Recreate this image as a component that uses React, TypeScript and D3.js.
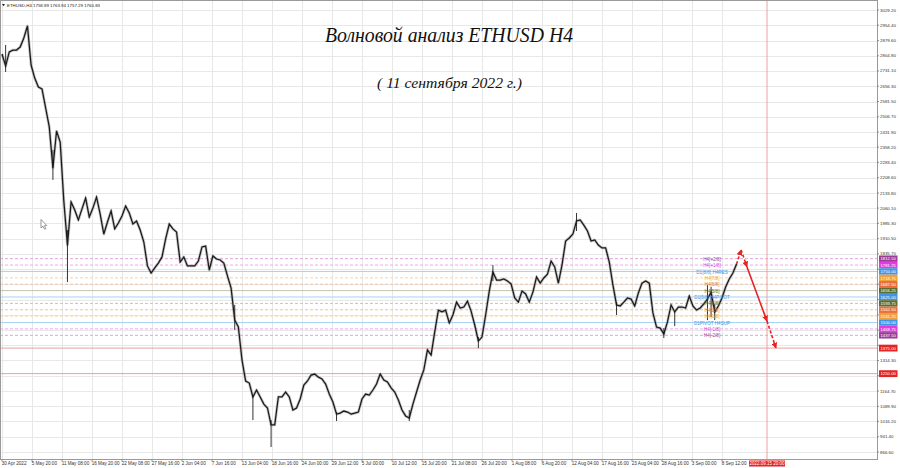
import React from 'react';
import * as d3 from 'd3';

const W = 900;
const H = 468;

// ---- data ----
const headerText = 'ETHUSD,H4  1758.89 1763.94 1757.29 1760.83';
const titleText = 'Волновой анализ ETHUSD H4';
const subtitleText = '( 11 сентября 2022 г.)';

const timeLabels = [
  '30 Apr 2022', '5 May 20:00', '11 May 08:00', '16 May 20:00', '22 May 08:00', '27 May 16:00',
  '2 Jun 04:00', '7 Jun 16:00', '13 Jun 04:00', '18 Jun 16:00', '24 Jun 00:00', '29 Jun 12:00',
  '5 Jul 00:00', '10 Jul 12:00', '15 Jul 20:00', '21 Jul 08:00', '26 Jul 20:00', '1 Aug 08:00',
  '6 Aug 20:00', '12 Aug 04:00', '17 Aug 16:00', '23 Aug 04:00', '28 Aug 16:00', '3 Sep 00:00',
  '8 Sep 12:00',
];
const LABEL_STEP_BARS = 33;
const SAMPLE_STEP_BARS = 4;

const priceTicks = [
  3029.2, 2954.4, 2879.6, 2804.8, 2731.1, 2656.3, 2581.5, 2506.7, 2431.9, 2358.2,
  2283.4, 2208.6, 2133.8, 2060.1, 1985.3, 1910.5, 1835.7, 1760.9, 1687.2, 1612.4,
  1537.6, 1462.8, 1389.05, 1314.3, 1239.5, 1164.7, 1089.9, 1016.2, 941.4, 866.6,
];

// ETHUSD H4 price, sampled every 4 bars
const closes = [
  2814, 2755, 2824, 2833, 2833, 2848, 2892, 2951, 2760, 2696,
  2652, 2643, 2550, 2457, 2256, 2437, 2383, 2095, 1879, 2090,
  2051, 2002, 2056, 2109, 2016, 2060, 2114, 2031, 1933, 1992,
  2046, 1958, 1987, 2021, 2070, 2036, 1982, 1997, 1953, 1894,
  1777, 1742, 1767, 1791, 1821, 1909, 1982, 1958, 1943, 1796,
  1821, 1777, 1777, 1777, 1801, 1870, 1874, 1757, 1826, 1811,
  1806, 1791, 1728, 1669, 1512, 1478, 1317, 1214, 1204, 1136,
  1170, 1136, 1101, 1082, 999, 999, 1136, 1136, 1160, 1136,
  1072, 1082, 1126, 1194, 1214, 1243, 1248, 1233, 1224, 1199,
  1150, 1111, 1052, 1057, 1067, 1062, 1052, 1057, 1062, 1126,
  1150, 1145, 1170, 1199, 1248, 1219, 1209, 1180, 1160, 1121,
  1072, 1043, 1033, 1101, 1160, 1219, 1268, 1366, 1341, 1454,
  1561, 1552, 1561, 1498, 1537, 1600, 1571, 1576, 1605, 1556,
  1488, 1410, 1429, 1537, 1654, 1747, 1708, 1708, 1713, 1703,
  1689, 1620, 1600, 1654, 1640, 1600, 1649, 1723, 1693, 1718,
  1737, 1801, 1772, 1693, 1781, 1899, 1914, 1933, 1997, 2002,
  1977, 1948, 1899, 1904, 1879, 1865, 1865, 1796, 1684, 1586,
  1581, 1600, 1620, 1615, 1581, 1645, 1693, 1703, 1693, 1547,
  1478, 1473, 1444, 1503, 1586, 1552, 1576, 1576, 1571, 1630,
  1581, 1561, 1571, 1591, 1615, 1649, 1552, 1581, 1620, 1674,
  1713, 1742, 1786,
];

// notable candle wicks: sample index, high, low
const wickIndex = [1, 14, 18, 64, 69, 74, 92, 112, 131, 135, 158, 169, 182, 185, 194, 195, 196];
const wickHigh = [2858, 2344, 1953, 1586, 1146, 1023, 1062, 1072, 1429, 1781, 2036, 1600, 1473, 1552, 1684, 1674, 1591];
const wickLow = [2726, 2198, 1698, 1464, 1023, 891, 1018, 1018, 1375, 1703, 1948, 1537, 1424, 1483, 1512, 1527, 1512];

const murreyLevels = [1812.5, 1781.25, 1750, 1718.75, 1687.5, 1656.25, 1625, 1593.75, 1562.5, 1531.25, 1500, 1468.75, 1437.5];
const murreyNames = [
  'H4[+2/8]', 'H4[+1/8]', 'D1[8/8] H4RES', 'H4[7/8]', 'H4[6/8]', 'H4[5/8]', 'D1[5/8] H4PIVOT',
  'H4[3/8]', 'H4[2/8]', 'H4[1/8]', 'D1PIVOT H4SUP', 'H4[-1/8]', 'H4[-2/8]',
];
const supportLevels = [1375, 1250];

const forecastBars = [808, 813, 819.5, 841.5, 851.4];
const forecastPrices = [1786, 1855, 1772, 1507, 1375];

const markerBar = 841.5;
const markerLabel = '2022.09.15 20:00';

// ---- styles ----
const levelKinds = ['p2', 'p1', 'd1', 'o', 'r', 'g', 'd1', 'g', 'r', 'o', 'd1', 'p1', 'p2'];
const kindColor: Record<string, string> = {
  p2: '#9c3c96', p1: '#e03ce0', d1: '#3d96e6', o: '#f0a03c', r: '#e8703a', g: '#5a6e32',
};
const kindLine: Record<string, string> = {
  p2: '#dba6d6', p1: '#f2a6f2', d1: '#a6d2f4', o: '#f6d6a6', r: '#f4c0a8', g: '#c4c4b0',
};
const kindDash = (k: string, i: number) => (k === 'd1' || i === 5 ? undefined : '3,2');
const RED = '#e42424';
const SMALL_FONT = "'Liberation Sans', Arial, sans-serif";

export default function App() {
  const x = d3.scaleLinear().domain([0, LABEL_STEP_BARS]).range([2, 32]);
  const y = d3.scaleLinear().domain([866.6, 3029.2]).range([452, 10]);
  const plotR = 877;
  const plotB = 459.5;
  const labelBar = 781;

  const pricePath = d3
    .line<number>()
    .x((_, i) => x(i * SAMPLE_STEP_BARS))
    .y((d) => y(d))(closes) as string;

  const fpts = forecastBars.map((b, i) => [x(b), y(forecastPrices[i])] as [number, number]);
  const segDashed = [true, true, false, true];

  // axis labels hidden behind the level boxes are not drawn
  const boxYs = [...murreyLevels, ...supportLevels].map((p) => y(p));
  const visibleTicks = priceTicks.filter((p) => boxYs.every((by) => Math.abs(by - y(p)) > 4.5));

  return (
    <svg
      width={W}
      height={H}
      style={{ position: 'absolute', left: 0, top: 0, background: '#fff' }}
      xmlns="http://www.w3.org/2000/svg"
    >
      <defs>
        <marker
          id="arr"
          viewBox="0 0 10 10"
          refX="9"
          refY="5"
          markerWidth="6"
          markerHeight="6"
          markerUnits="userSpaceOnUse"
          orient="auto"
        >
          <path d="M0,0 L10,5 L0,10 z" fill={RED} />
        </marker>
        <clipPath id="plot">
          <rect x={0} y={0} width={plotR} height={plotB} />
        </clipPath>
      </defs>
      <rect x={0} y={0} width={W} height={H} fill="#fff" />

      {/* grid */}
      <g stroke="#e8e8e8" strokeWidth={1}>
        {priceTicks.map((p) => (
          <line key={'h' + p} x1={0} x2={plotR} y1={Math.round(y(p)) + 0.5} y2={Math.round(y(p)) + 0.5} />
        ))}
        {timeLabels.map((t, k) => (
          <line key={'v' + t} x1={Math.round(x(k * LABEL_STEP_BARS)) + 0.5} x2={Math.round(x(k * LABEL_STEP_BARS)) + 0.5} y1={0} y2={plotB} />
        ))}
      </g>

      <g clipPath="url(#plot)">
        {/* level lines */}
        {murreyLevels.map((p, i) => (
          <line
            key={'l' + p}
            x1={0}
            x2={plotR}
            y1={y(p)}
            y2={y(p)}
            stroke={kindLine[levelKinds[i]]}
            strokeWidth={1}
            strokeDasharray={kindDash(levelKinds[i], i)}
          />
        ))}
        {supportLevels.map((p) => (
          <line key={'s' + p} x1={0} x2={plotR} y1={y(p)} y2={y(p)} stroke="#e3a3a3" strokeWidth={1} />
        ))}
        <line x1={x(markerBar)} x2={x(markerBar)} y1={0} y2={plotB} stroke="#eea0a0" strokeWidth={1} />

        {/* price */}
        <path d={pricePath} fill="none" stroke="#8a8a8a" strokeWidth={2.8} strokeLinejoin="round" opacity={0.5} />
        {wickIndex.map((idx, j) => (
          <line
            key={'w' + idx}
            x1={x(idx * SAMPLE_STEP_BARS)}
            x2={x(idx * SAMPLE_STEP_BARS)}
            y1={y(wickHigh[j])}
            y2={y(wickLow[j])}
            stroke="#333"
            strokeWidth={1}
          />
        ))}
        <path d={pricePath} fill="none" stroke="#1a1a1a" strokeWidth={1.25} strokeLinejoin="miter" />

        {/* level labels */}
        {murreyNames.map((n, i) => (
          <text
            key={'n' + n + i}
            x={x(labelBar)}
            y={y(murreyLevels[i]) + 0.6}
            textAnchor="middle"
            dominantBaseline="central"
            fontFamily={SMALL_FONT}
            fontSize={4.6}
            fill={kindColor[levelKinds[i]]}
          >
            {n}
          </text>
        ))}

        {/* forecast */}
        {fpts.slice(0, -1).map((p, i) => (
          <line
            key={'f' + i}
            x1={p[0]}
            y1={p[1]}
            x2={fpts[i + 1][0]}
            y2={fpts[i + 1][1]}
            stroke={RED}
            strokeWidth={1.6}
            strokeDasharray={segDashed[i] ? '3,2' : undefined}
            markerEnd="url(#arr)"
          />
        ))}

        {/* cursor */}
        <path d="M41,219.5 L41,228 L43,226.2 L44.6,229.3 L45.8,228.7 L44.3,225.7 L46.8,225.6 Z" fill="#fff" stroke="#555" strokeWidth={0.6} />
      </g>

      {/* frame */}
      <rect x={0.5} y={0.5} width={plotR} height={plotB - 0.5} fill="none" stroke="#9a9a9a" strokeWidth={1} />

      {/* header */}
      <path d="M2,4 L5,4 L3.5,6.2 Z" fill="#222" />
      <text x={7} y={6.8} fontFamily={SMALL_FONT} fontSize={4.4} fill="#222" textLength={93} lengthAdjust="spacingAndGlyphs">
        {headerText}
      </text>

      {/* title */}
      <text
        x={449}
        y={42}
        textAnchor="middle"
        fontFamily="'Liberation Serif', serif"
        fontStyle="italic"
        fontSize={20}
        fill="#111"
        textLength={248}
        lengthAdjust="spacingAndGlyphs"
      >
        {titleText}
      </text>
      <text
        x={449.5}
        y={88}
        textAnchor="middle"
        fontFamily="'Liberation Serif', serif"
        fontStyle="italic"
        fontSize={14}
        fill="#111"
        textLength={145}
        lengthAdjust="spacingAndGlyphs"
      >
        {subtitleText}
      </text>

      {/* right axis */}
      {priceTicks.map((p) => (
        <line key={'pk' + p} x1={plotR} x2={plotR + 2} y1={y(p)} y2={y(p)} stroke="#777" strokeWidth={0.8} />
      ))}
      {visibleTicks.map((p) => (
        <text key={'pt' + p} x={880} y={y(p)} dominantBaseline="central" fontFamily={SMALL_FONT} fontSize={4.4} fill="#333">
          {p.toFixed(2)}
        </text>
      ))}
      {murreyLevels.map((p, i) => (
        <g key={'b' + p}>
          <rect x={879} y={y(p) - 3.2} width={18.5} height={6.4} fill={kindColor[levelKinds[i]]} />
          <text x={888.2} y={y(p) + 0.2} textAnchor="middle" dominantBaseline="central" fontFamily={SMALL_FONT} fontSize={4.3} fill="#fff">
            {p.toFixed(2)}
          </text>
        </g>
      ))}
      {supportLevels.map((p) => (
        <g key={'sb' + p}>
          <rect x={879} y={y(p) - 3.4} width={18.5} height={6.8} fill={RED} />
          <text x={888.2} y={y(p) + 0.2} textAnchor="middle" dominantBaseline="central" fontFamily={SMALL_FONT} fontSize={4.3} fill="#fff">
            {p.toFixed(2)}
          </text>
        </g>
      ))}

      {/* bottom axis */}
      {timeLabels.map((t, k) => (
        <g key={'tl' + t}>
          <line x1={x(k * LABEL_STEP_BARS)} x2={x(k * LABEL_STEP_BARS)} y1={plotB} y2={plotB + 2} stroke="#777" strokeWidth={0.8} />
          <text x={x(k * LABEL_STEP_BARS) - 0.3} y={465} fontFamily={SMALL_FONT} fontSize={4.6} fill="#333">
            {t}
          </text>
        </g>
      ))}
      <rect x={x(markerBar) - 18} y={460.5} width={36} height={6} fill={RED} />
      <text x={x(markerBar)} y={463.6} textAnchor="middle" dominantBaseline="central" fontFamily={SMALL_FONT} fontSize={4.5} fill="#fff">
        {markerLabel}
      </text>
    </svg>
  );
}
